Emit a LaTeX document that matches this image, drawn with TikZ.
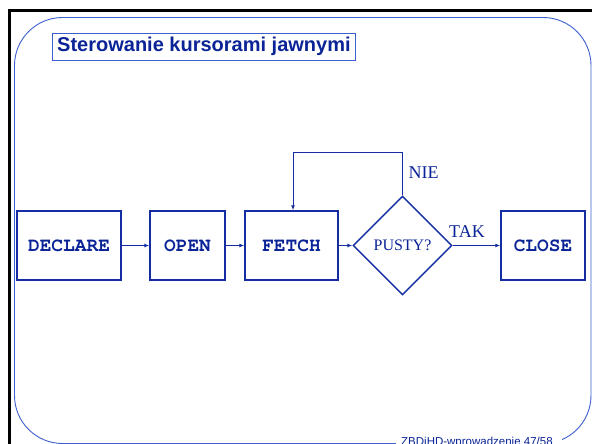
\documentclass[tikz,border=0pt]{standalone}
\usepackage{fontspec}
\setmainfont{Liberation Serif}
\setsansfont{Liberation Sans}
\setmonofont{Liberation Mono}
\usetikzlibrary{shapes.geometric,arrows.meta}
\definecolor{dblue}{RGB}{20,45,160}
\definecolor{tblue}{RGB}{10,35,150}
\definecolor{fblue}{RGB}{60,95,205}
\newcommand{\courb}{\fontencoding{T1}\fontfamily{pcr}\fontseries{b}\fontsize{19.5}{20}\selectfont}
\tikzset{
  stepbox/.style={draw=dblue,line width=1.4pt,inner sep=0pt,
    font=\courb,text=tblue},
  arr/.style={draw=dblue,line width=1pt,-{Latex[length=5pt,width=4pt]}},
  lbl/.style={font=\fontsize{18}{20}\selectfont\rmfamily,text=tblue,inner sep=0pt}
}
\begin{document}
\begin{tikzpicture}[x=1pt,y=-1pt]
\useasboundingbox (0,0) rectangle (592,444);
% black outer frame
\draw[black,line width=3pt] (9.5,446) -- (9.5,10.5) -- (594,10.5);
% blue rounded frame
\draw[fblue,line width=0.9pt,rounded corners=48pt] (14.5,17.5) rectangle (591,443.5);
% footer
\node[fill=white,inner sep=0pt,minimum width=166pt,minimum height=14pt,anchor=north west] (footbg) at (396,431) {};
\node[font=\fontsize{11.5}{12}\selectfont\sffamily,text=tblue,anchor=base west,inner sep=0pt] (foot) at (401,445) {ZBDiHD-wprowadzenie 47/58};
% title
\node[draw=fblue,line width=0.8pt,minimum width=303pt,minimum height=27pt,inner sep=0pt,anchor=north west] (title) at (52,33) {};
\node[font=\fontsize{20}{22}\selectfont\sffamily\bfseries,text=tblue,anchor=west,inner sep=0pt] (titletext) at (57,46.5) {Sterowanie kursorami jawnymi};
% boxes
\node[stepbox,minimum width=104pt,minimum height=69pt] (declare) at (69,245.5) {DECLARE};
\node[stepbox,minimum width=75pt,minimum height=69pt] (open) at (187.5,245.5) {OPEN};
\node[stepbox,minimum width=93pt,minimum height=69pt] (fetch) at (291.5,245.5) {FETCH};
\node[draw=dblue,line width=1.4pt,diamond,aspect=1,minimum width=99pt,minimum height=99pt,inner sep=0pt,
  font=\fontsize{16}{18}\selectfont\rmfamily,text=tblue] (dia) at (402.5,245.5) {PUSTY?};
\node[stepbox,minimum width=84pt,minimum height=69pt] (close) at (543,245.5) {CLOSE};
% connectors
\draw[arr] (declare.east) -- (open.west);
\draw[arr] (open.east) -- (fetch.west);
\draw[arr] (fetch.east) -- (dia.west);
\draw[arr] (dia.east) -- (close.west);
\coordinate (loop) at (293,152);
\draw[arr] (dia.north) |- (loop) -- (loop |- fetch.north);
% labels
\node[lbl] (nie) at (423.5,173) {NIE};
\node[lbl] (tak) at (467,231.5) {TAK};
\end{tikzpicture}
\end{document}
